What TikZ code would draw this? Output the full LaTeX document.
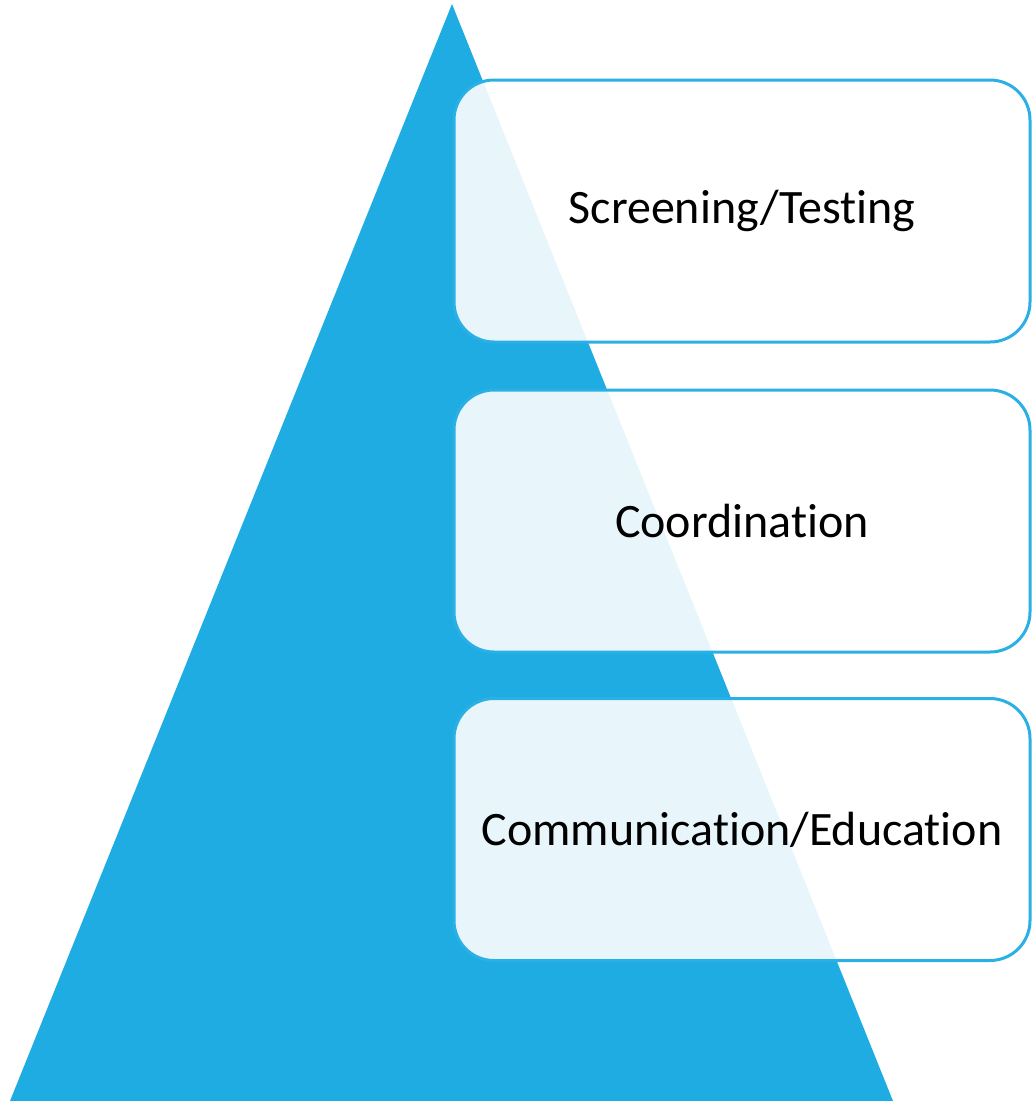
\documentclass[tikz,border=0pt]{standalone}
\usepackage{fontspec}
\setmainfont{Carlito}[Ligatures=NoCommon]
\definecolor{pyrblue}{HTML}{1EACE2}
\definecolor{edgeblue}{HTML}{2AB0E4}
\begin{document}
\begin{tikzpicture}[
    x=1pt, y=-1pt,
    level/.style={rectangle, draw=edgeblue, line width=3pt, rounded corners=40pt,
        fill=white, fill opacity=0.9, text opacity=1,
        minimum width=576pt, minimum height=262pt, font=\fontsize{48}{58}\selectfont}
]
\useasboundingbox (0,0) rectangle (1035,1101);
% pyramid
\coordinate (top) at (452,4);
\coordinate (bl) at (10,1101);
\coordinate (br) at (893,1101);
\fill[pyrblue] (top) -- (bl) -- (br) -- cycle;

\node[level] (screen) at (742,211) {Screening/Testing};
\node[level] (coord) at (742,521) {Coordination};
\node[level] (comm) at (742,829.5) {Communication/Education};
\end{tikzpicture}
\end{document}
